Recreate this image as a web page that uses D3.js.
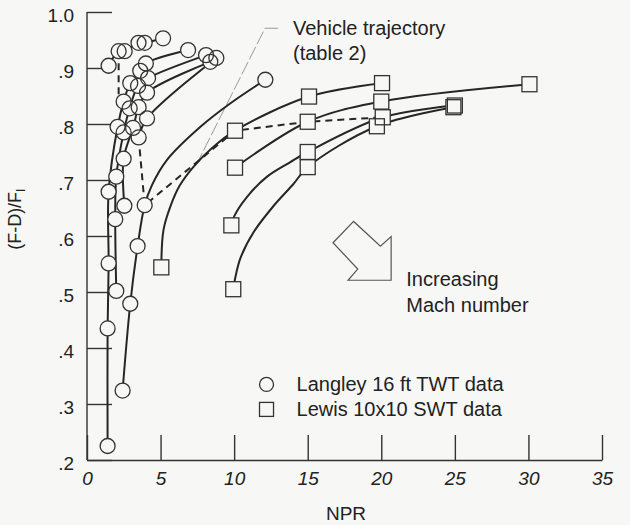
<!DOCTYPE html>
<html>
<head>
<meta charset="utf-8">
<script src="https://cdn.jsdelivr.net/npm/d3@7"></script>
<style>
  body { margin: 0; background: #f7f7f5; }
  svg { display: block; font-family: "Liberation Sans", Arial, sans-serif; }
  .axis path, .axis line { stroke: #333; stroke-width: 1.4; }
  .axis text { fill: #222; font-size: 19px; }
  .curve { fill: none; stroke: #262626; stroke-width: 2; }
</style>
</head>
<body>
<script>
// Langley 16 ft TWT points, [NPR, (F-D)/Fi]
const langley1 = [[1.40, 0.225], [1.40, 0.435], [1.47, 0.551], [1.47, 0.679], [2.08, 0.795], [2.49, 0.840], [2.94, 0.873], [3.62, 0.895], [4.0, 0.908], [6.87, 0.932]];
const langley2 = [[1.99, 0.502], [1.92, 0.630], [1.99, 0.706], [2.49, 0.785], [2.9, 0.828], [3.47, 0.868], [4.15, 0.882], [8.09, 0.923]];
const langley3 = [[2.54, 0.654], [2.49, 0.738], [3.13, 0.793], [3.51, 0.830], [4.08, 0.856], [8.38, 0.911]];
const langley4 = [[2.42, 0.324], [2.94, 0.479], [3.44, 0.582], [3.92, 0.655], [12.12, 0.879]];
const langley5 = [[3.51, 0.776], [4.08, 0.810], [8.79, 0.918]];
const langley6 = [[1.47, 0.904], [2.15, 0.930], [2.56, 0.930], [3.5, 0.945], [3.92, 0.945], [5.17, 0.953]];

// Lewis 10x10 SWT points
const lewis1 = [[5.05, 0.544], [10.06, 0.788], [15.09, 0.849], [20.05, 0.873]];
const lewis2 = [[10.06, 0.722], [15.0, 0.804], [20.0, 0.840], [30.07, 0.871]];
const lewis3 = [[9.81, 0.619], [15.0, 0.750], [20.1, 0.812], [25.0, 0.833]];
const lewis4 = [[9.94, 0.505], [15.0, 0.723], [19.7, 0.796], [24.9, 0.830]];

const langley4Fair = [[2.42, 0.324], [2.94, 0.479], [3.44, 0.582], [3.92, 0.655], [4.4, 0.690], [5.44, 0.736], [7.71, 0.795], [9.75, 0.837], [12.12, 0.879]];
const lewis1Fair = [[5.05, 0.544], [5.2, 0.611], [5.7, 0.655], [6.3, 0.690], [7.25, 0.724], [8.5, 0.757], [10.06, 0.788], [15.09, 0.849], [20.05, 0.873]];
const lewis3Fair = [[9.81, 0.619], [10.0, 0.635], [10.88, 0.670], [12.24, 0.706], [13.82, 0.732], [15.0, 0.750], [20.1, 0.812], [25.0, 0.833]];
const lewis4Fair = [[9.94, 0.505], [10.05, 0.522], [10.42, 0.560], [11.33, 0.607], [12.69, 0.654], [14.0, 0.692], [15.0, 0.723], [19.7, 0.796], [24.9, 0.830]];

// vehicle trajectory (dashed)
const trajectoryA = [[2.15, 0.930], [2.15, 0.852]];
const trajectoryB = [[3.51, 0.776], [3.92, 0.655], [10.06, 0.788], [15.0, 0.804], [20.1, 0.812]];

const xTicks = [0, 5, 10, 15, 20, 25, 30, 35];
const yTicks = [0.2, 0.3, 0.4, 0.5, 0.6, 0.7, 0.8, 0.9, 1.0];

// annotation geometry in data units
const leader = [[13.0, 0.971], [12.1, 0.971], [7.6, 0.736]];
const arrow = [[16.72, 0.588], [18.12, 0.626], [19.94, 0.582], [20.67, 0.599], [20.67, 0.521], [17.74, 0.521], [18.40, 0.541]];

const margin = { top: 12, right: 28, bottom: 65, left: 87 };
const width = 630 - margin.left - margin.right;
const height = 525 - margin.top - margin.bottom;

const x = d3.scaleLinear().domain([0, 35]).range([0, width]);
const y = d3.scaleLinear().domain([0.2, 1.0]).range([height, 0]);

const svg = d3.select("body").append("svg")
  .attr("width", 630)
  .attr("height", 525)
  .append("g")
  .attr("transform", `translate(${margin.left},${margin.top})`);

// axes
svg.append("g")
  .attr("class", "axis")
  .call(d3.axisLeft(y).tickValues(yTicks).tickSizeInner(-25).tickSizeOuter(0).tickPadding(13)
    .tickFormat(d => d === 1 ? "1.0" : d3.format(".1f")(d).replace(/^0/, "")))
  .call(g => g.selectAll("text").attr("dy", "0.5em"));

svg.append("g")
  .attr("class", "axis")
  .attr("transform", `translate(0,${height})`)
  .call(d3.axisBottom(x).tickValues(xTicks).tickSizeInner(-25).tickSizeOuter(0).tickPadding(12))
  .call(g => g.selectAll("text").style("font-style", "italic"));

svg.select(".axis .domain").attr("d", `M0,${height}V0`);

// axis titles
svg.append("text")
  .attr("transform", `translate(${x(17.6)}, ${height + 60})`)
  .attr("text-anchor", "middle")
  .style("font-size", "19px")
  .style("fill", "#222")
  .text("NPR");

const ylab = svg.append("text")
  .attr("transform", `translate(${-66}, ${y(0.63)}) rotate(-90)`)
  .attr("text-anchor", "middle")
  .style("font-size", "18px")
  .style("fill", "#222");
ylab.append("tspan").text("(F-D)/F");
ylab.append("tspan").attr("dy", "0.3em").style("font-size", "12px").text("I");

// leader line and arrow
const line = d3.line().x(d => x(d[0])).y(d => y(d[1]));
svg.append("path")
  .attr("d", line(leader))
  .attr("fill", "none")
  .attr("stroke", "#9a9a9a")
  .attr("stroke-width", 1)
  .attr("stroke-dasharray", "14,3");

svg.append("path")
  .attr("d", line(arrow) + "Z")
  .attr("fill", "none")
  .attr("stroke", "#555")
  .attr("stroke-width", 1.2);

// data curves
const smooth = d3.line().x(d => x(d[0])).y(d => y(d[1])).curve(d3.curveCatmullRom.alpha(0.5));
const langley = [langley1, langley2, langley3, langley4, langley5, langley6];
const lewis = [lewis1, lewis2, lewis3, lewis4];
const curves = [langley1, langley2, langley3, langley4Fair, langley5, langley6,
  lewis1Fair, lewis2, lewis3Fair, lewis4Fair];

svg.selectAll(".curve")
  .data(curves)
  .enter().append("path")
  .attr("class", "curve")
  .attr("d", smooth);

svg.selectAll(".traj")
  .data([trajectoryA, trajectoryB])
  .enter().append("path")
  .attr("class", "traj")
  .attr("d", line)
  .attr("fill", "none")
  .attr("stroke", "#262626")
  .attr("stroke-width", 2)
  .attr("stroke-dasharray", "7,5");

// markers: filled pass hides the lines, outline pass keeps overlaps visible
const circles = langley.flat();
const squares = lewis.flat();
const s = 15;

svg.selectAll(".cfill").data(circles).enter().append("circle")
  .attr("cx", d => x(d[0])).attr("cy", d => y(d[1])).attr("r", 7.5)
  .attr("fill", "#f7f7f5");
svg.selectAll(".sfill").data(squares).enter().append("rect")
  .attr("x", d => x(d[0]) - s / 2).attr("y", d => y(d[1]) - s / 2)
  .attr("width", s).attr("height", s)
  .attr("fill", "#f7f7f5");
svg.selectAll(".cline").data(circles).enter().append("circle")
  .attr("cx", d => x(d[0])).attr("cy", d => y(d[1])).attr("r", 7.5)
  .attr("fill", "none").attr("stroke", "#333").attr("stroke-width", 1.3);
svg.selectAll(".sline").data(squares).enter().append("rect")
  .attr("x", d => x(d[0]) - s / 2).attr("y", d => y(d[1]) - s / 2)
  .attr("width", s).attr("height", s)
  .attr("fill", "none").attr("stroke", "#333").attr("stroke-width", 1.3);

// annotations
const notes = [
  { t: "Vehicle trajectory", at: [14.0, 0.959] },
  { t: "(table 2)", at: [14.0, 0.914] },
  { t: "Increasing", at: [21.7, 0.510] },
  { t: "Mach number", at: [21.7, 0.465] }
];
svg.selectAll(".note").data(notes).enter().append("text")
  .attr("x", d => x(d.at[0])).attr("y", d => y(d.at[1]))
  .style("font-size", "20px").style("fill", "#222")
  .text(d => d.t);

// legend
const legend = svg.append("g").attr("transform", `translate(${x(12.2)}, ${y(0.335)})`);
legend.append("circle").attr("cx", 0).attr("cy", 0).attr("r", 7)
  .attr("fill", "none").attr("stroke", "#333").attr("stroke-width", 1.3);
legend.append("rect").attr("x", -7).attr("y", 18).attr("width", 14).attr("height", 14)
  .attr("fill", "none").attr("stroke", "#333").attr("stroke-width", 1.3);
legend.append("text").attr("x", 30).attr("y", 7).style("font-size", "20px").style("fill", "#222")
  .text("Langley 16 ft TWT data");
legend.append("text").attr("x", 30).attr("y", 32).style("font-size", "20px").style("fill", "#222")
  .text("Lewis 10x10 SWT data");
</script>
</body>
</html>
